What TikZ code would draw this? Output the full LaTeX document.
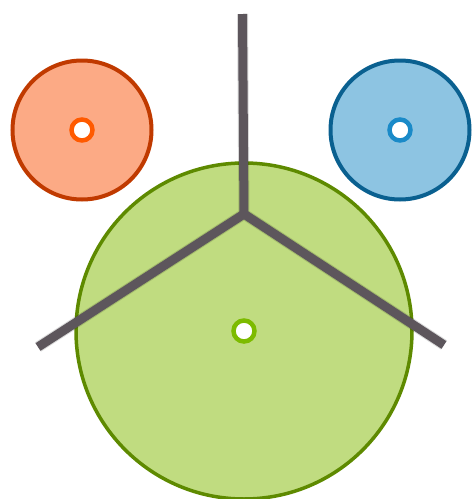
\documentclass[tikz,border=0pt]{standalone}
\usepackage{tikz}
\usetikzlibrary{positioning, calc}
\usepackage{xcolor}
\definecolor{orangefill}{RGB}{252,170,133}
\definecolor{orangeline}{RGB}{192,58,0}
\definecolor{orangedot}{RGB}{255,90,0}
\definecolor{bluefill}{RGB}{141,196,226}
\definecolor{blueline}{RGB}{10,96,144}
\definecolor{bluedot}{RGB}{26,138,200}
\definecolor{greenfill}{RGB}{192,220,128}
\definecolor{greenline}{RGB}{94,138,0}
\definecolor{greendot}{RGB}{125,187,0}
\definecolor{spoke}{RGB}{93,86,92}

\tikzset{
  disc/.style={circle, line width=4pt, inner sep=0pt},
  hub/.style={circle, fill=white, line width=4.5pt, minimum size=21pt, inner sep=0pt},
  spokeline/.style={spoke, line width=9pt},
  spokeshadow/.style={black, opacity=0.15, line width=11pt},
}

\begin{document}
\begin{tikzpicture}[x=1pt, y=-1pt]
  \useasboundingbox (0,0) rectangle (474,499);
  % the three circles
  \node[disc, fill=greenfill, draw=greenline, line width=3.5pt, minimum size=336pt] (big) at (244,331) {};
  \node[disc, fill=orangefill, draw=orangeline, minimum size=139pt] (left) at (82,130) {};
  \node[disc, fill=bluefill, draw=blueline, minimum size=139pt] (right) at (400,130) {};
  % centre marks
  \node[hub, draw=orangedot] (lefthub) at (left.center) {};
  \node[hub, draw=bluedot] (righthub) at (right.center) {};
  \node[hub, draw=greendot] (bighub) at (big.center) {};
  % the Y
  \coordinate (joint) at (244,214);
  \coordinate (top) at (242.5,14);
  \coordinate (west) at (38,347);
  \coordinate (east) at (444,345);
  \draw[spokeshadow, shift={(1.5,2.5)}] (top) -- (joint) (west) -- (joint) -- (east);
  \draw[spokeline] (top) -- (joint);
  \draw[spokeline] (west) -- (joint) -- (east);
\end{tikzpicture}
\end{document}
